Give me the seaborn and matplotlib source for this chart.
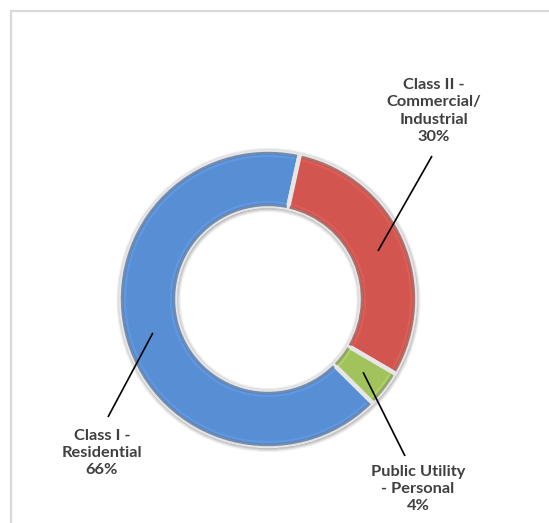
import matplotlib
matplotlib.use("Agg")
import matplotlib.pyplot as plt
import numpy as np
import seaborn as sns

# Share of accounts by customer class
categories = ["Class I -\nResidential", "Class II -\nCommercial/\nIndustrial", "Public Utility\n- Personal"]
shares = [66, 30, 4]
pct_labels = ["66%", "30%", "4%"]
colors = ["#588ED4", "#D2554F", "#A2C35C"]

sns.set_theme(style="white")
plt.rcParams["font.family"] = ["Lato", "DejaVu Sans"]

W, H = 549, 523
fig = plt.figure(figsize=(W / 100, H / 100), dpi=100)
ax = fig.add_axes([0, 0, 1, 1])

cx, cy = 268, 224
r_out, ring = 147, 54
r_in = r_out - ring

wedges, _ = ax.pie(shares, colors=colors, startangle=-44.8, counterclock=False,
                   center=(cx, cy), radius=r_out,
                   wedgeprops=dict(width=ring, edgecolor="#E6E6E6", linewidth=3.2, zorder=3))

# pie() resets the view, so fix the pixel-sized canvas afterwards
ax.set_xlim(0, W)
ax.set_ylim(0, H)
ax.set_aspect("equal")
ax.axis("off")

# light chart-area frame (runs off the right and bottom edges)
ax.add_patch(plt.Rectangle((11, -20), W + 40, H - 11 + 20, fill=False,
                           edgecolor="#D9D9D9", linewidth=1.6))

# soft shadow around the ring, outside and inside the hole
for k, a in enumerate([0.35, 0.22, 0.13, 0.07]):
    ax.add_patch(plt.Circle((cx + 0.5, cy - 1), r_out + 0.5 + k * 1.2, fill=False,
                            edgecolor="#404040", linewidth=1.4, alpha=a, zorder=2))
    ax.add_patch(plt.Circle((cx + 0.5, cy - 1), r_in - 0.5 - k * 1.2, fill=False,
                            edgecolor="#404040", linewidth=1.4, alpha=a, zorder=2))

# darker rim and a lighter bevel line along the edges of each segment
for w, c in zip(wedges, colors):
    rgb = np.array(matplotlib.colors.to_rgb(c))
    dark = tuple(rgb * 0.72)
    light = tuple(np.minimum(rgb * 1.15, 1))
    t1, t2 = min(w.theta1, w.theta2), max(w.theta1, w.theta2)
    for rr in (r_out - 1.2, r_in + 1.2):
        ax.add_patch(matplotlib.patches.Arc((cx, cy), 2 * rr, 2 * rr, theta1=t1 + 0.9,
                                            theta2=t2 - 0.9, edgecolor=dark,
                                            linewidth=2.0, alpha=0.7, zorder=4))
    for rr in (r_out - 4, r_in + 4):
        ax.add_patch(matplotlib.patches.Arc((cx, cy), 2 * rr, 2 * rr, theta1=t1 + 1.5,
                                            theta2=t2 - 1.5, edgecolor=light,
                                            linewidth=1.6, alpha=0.5, zorder=4))

# label text blocks and leader lines
label_xy = [(102, 523 - 453), (434, 523 - 111), (418, 523 - 489)]
text_ends = [(108, 523 - 417), (432, 523 - 156), (405, 523 - 456)]
r_mid = r_out - ring / 2
for w, cat, pct, (tx, ty), (ex, ey) in zip(wedges, categories, pct_labels, label_xy, text_ends):
    ang = np.deg2rad((w.theta1 + w.theta2) / 2)
    px, py = cx + r_mid * np.cos(ang), cy + r_mid * np.sin(ang)
    ax.plot([px, ex], [py, ey], color="black", linewidth=1.2, solid_capstyle="butt", zorder=5)
    ax.text(tx, ty, f"{cat}\n{pct}", ha="center", va="center", fontsize=11.8,
            fontweight="bold", color="#404040", linespacing=1.3)

fig.savefig("out.png", dpi=100)
